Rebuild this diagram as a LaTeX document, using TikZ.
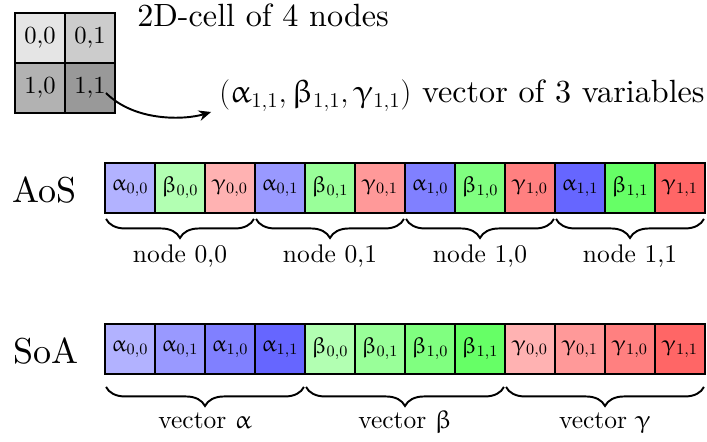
\documentclass[tikz,border=0pt]{standalone}
\usepackage{fontspec}
\setmainfont{lmroman10-regular}[Extension=.otf]
\usetikzlibrary{decorations.pathreplacing,arrows.meta}
\DeclareSymbolFont{eulerg}{U}{eur}{m}{n}
\DeclareMathSymbol{\ualpha}{\mathord}{eulerg}{"0B}
\DeclareMathSymbol{\ubeta}{\mathord}{eulerg}{"0C}
\DeclareMathSymbol{\ugamma}{\mathord}{eulerg}{"0D}
\DeclareMathSizes{18.3}{18.3}{12}{9}
\tikzset{
  cell/.style={draw, line width=1.1pt, minimum width=1cm, minimum height=1cm, inner sep=0pt, font=\fontsize{13}{15}\selectfont},
  gcell/.style={draw, line width=1.1pt, minimum width=1cm, minimum height=1cm, inner sep=0pt, font=\fontsize{14}{16}\selectfont},
  bigtext/.style={inner sep=0pt, font=\fontsize{18.3}{22}\selectfont},
  rowlabel/.style={inner sep=0pt, font=\fontsize{20.5}{24}\selectfont},
  bracelabel/.style={inner sep=0pt, font=\fontsize{14.5}{17}\selectfont},
  bracedeco/.style={line width=1.1pt, decorate, decoration={brace, amplitude=0.38cm, mirror}},
}
\begin{document}
\begin{tikzpicture}[x=0.02cm,y=-0.02cm]
\useasboundingbox (0,0) rectangle (707,442);
% 2D cell
\node[gcell, fill=black!10] (g00) at (40,38) {0,0};
\node[gcell, fill=black!20] (g01) at (90,38) {0,1};
\node[gcell, fill=black!30] (g10) at (40,88) {1,0};
\node[gcell, fill=black!40] (g11) at (90,88) {1,1};
\node[bigtext, anchor=base west] (title) at (137,27) {2D-cell of 4 nodes};
\node[bigtext, anchor=base east] (vec) at (705,103) {$(\ualpha_{1,1}, \ubeta_{1,1}, \ugamma_{1,1})$ vector of 3 variables};
\draw[line width=1.1pt, -{Stealth[length=7pt,width=6pt]}] ([shift={(16,5)}]g11.center) .. controls (135,122) and (185,120) .. ([shift={(-8,9)}]vec.base west);
% AoS
\node[rowlabel, anchor=base west] (aos) at (12,203) {AoS};
\node[cell, fill=blue!30]  (a1)  at (130,188) {$\ualpha_{0,0}$};
\node[cell, fill=green!30] (a2)  at (180,188) {$\ubeta_{0,0}$};
\node[cell, fill=red!30]   (a3)  at (230,188) {$\ugamma_{0,0}$};
\node[cell, fill=blue!40]  (a4)  at (280,188) {$\ualpha_{0,1}$};
\node[cell, fill=green!40] (a5)  at (330,188) {$\ubeta_{0,1}$};
\node[cell, fill=red!40]   (a6)  at (380,188) {$\ugamma_{0,1}$};
\node[cell, fill=blue!50]  (a7)  at (430,188) {$\ualpha_{1,0}$};
\node[cell, fill=green!50] (a8)  at (480,188) {$\ubeta_{1,0}$};
\node[cell, fill=red!50]   (a9)  at (530,188) {$\ugamma_{1,0}$};
\node[cell, fill=blue!60]  (a10) at (580,188) {$\ualpha_{1,1}$};
\node[cell, fill=green!60] (a11) at (630,188) {$\ubeta_{1,1}$};
\node[cell, fill=red!60]   (a12) at (680,188) {$\ugamma_{1,1}$};
\draw[bracedeco] ([shift={(2,5)}]a1.south west) -- ([shift={(-2,5)}]a3.south east);
\draw[bracedeco] ([shift={(2,5)}]a4.south west) -- ([shift={(-2,5)}]a6.south east);
\draw[bracedeco] ([shift={(2,5)}]a7.south west) -- ([shift={(-2,5)}]a9.south east);
\draw[bracedeco] ([shift={(2,5)}]a10.south west) -- ([shift={(-2,5)}]a12.south east);
\node[bracelabel, anchor=base] (n1) at (180,263) {node 0,0};
\node[bracelabel, anchor=base] (n2) at (330,263) {node 0,1};
\node[bracelabel, anchor=base] (n3) at (480,263) {node 1,0};
\node[bracelabel, anchor=base] (n4) at (630,263) {node 1,1};
% SoA
\node[rowlabel, anchor=base west] (soa) at (13,363) {SoA};
\node[cell, fill=blue!30]  (s1)  at (130,349) {$\ualpha_{0,0}$};
\node[cell, fill=blue!40]  (s2)  at (180,349) {$\ualpha_{0,1}$};
\node[cell, fill=blue!50]  (s3)  at (230,349) {$\ualpha_{1,0}$};
\node[cell, fill=blue!60]  (s4)  at (280,349) {$\ualpha_{1,1}$};
\node[cell, fill=green!30] (s5)  at (330,349) {$\ubeta_{0,0}$};
\node[cell, fill=green!40] (s6)  at (380,349) {$\ubeta_{0,1}$};
\node[cell, fill=green!50] (s7)  at (430,349) {$\ubeta_{1,0}$};
\node[cell, fill=green!60] (s8)  at (480,349) {$\ubeta_{1,1}$};
\node[cell, fill=red!30]   (s9)  at (530,349) {$\ugamma_{0,0}$};
\node[cell, fill=red!40]   (s10) at (580,349) {$\ugamma_{0,1}$};
\node[cell, fill=red!50]   (s11) at (630,349) {$\ugamma_{1,0}$};
\node[cell, fill=red!60]   (s12) at (680,349) {$\ugamma_{1,1}$};
\draw[bracedeco] ([shift={(2,12)}]s1.south west) -- ([shift={(-2,12)}]s4.south east);
\draw[bracedeco] ([shift={(2,12)}]s5.south west) -- ([shift={(-2,12)}]s8.south east);
\draw[bracedeco] ([shift={(2,12)}]s9.south west) -- ([shift={(-2,12)}]s12.south east);
\node[bracelabel, anchor=base] (v1) at (205,428) {vector $\ualpha$};
\node[bracelabel, anchor=base] (v2) at (405,428) {vector $\ubeta$};
\node[bracelabel, anchor=base] (v3) at (605,428) {vector $\ugamma$};
\end{tikzpicture}
\end{document}
